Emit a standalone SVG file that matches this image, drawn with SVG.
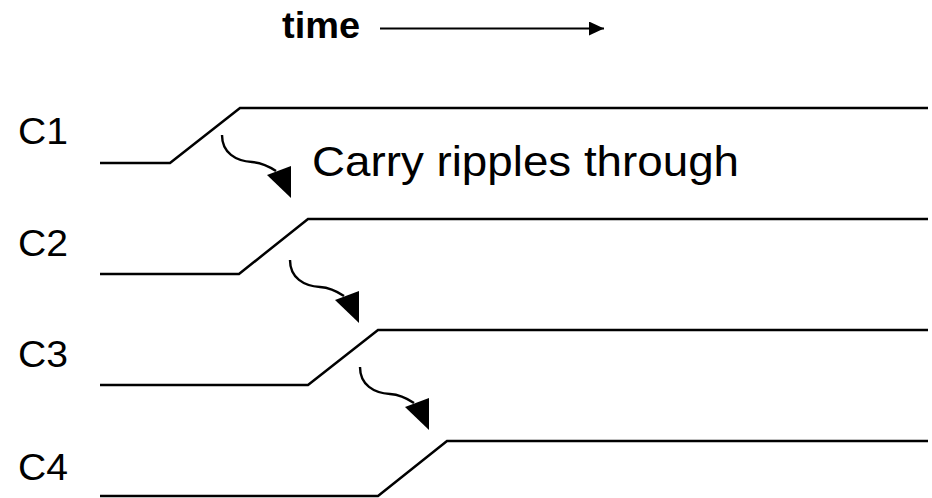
<svg xmlns="http://www.w3.org/2000/svg" width="932" height="498" viewBox="0 0 932 498">
  <style>
    .sig { fill: none; stroke: #000; stroke-width: 2.5; stroke-linejoin: miter; }
    .lbl { font-family: "Liberation Sans", Arial, sans-serif; font-size: 36px; fill: #000; }
    .note { font-family: "Liberation Sans", Arial, sans-serif; font-size: 43px; fill: #000; }
    .time { font-family: "Liberation Sans", Arial, sans-serif; font-size: 36px; font-weight: bold; fill: #000; }
    .curve { fill: none; stroke: #000; stroke-width: 2.4; }
    .head { fill: #000; stroke: none; }
  </style>
  <defs>
    <marker id="timeHead" markerWidth="15" markerHeight="14" refX="15" refY="7" orient="auto" markerUnits="userSpaceOnUse" viewBox="0 0 15 14">
      <path d="M0,0 L15,7 L0,14 z" fill="#000"/>
    </marker>
    <!-- curved ripple arrow, origin at the curve start -->
    <g id="ripple">
      <path class="curve" d="M0,0 C0,18 14,26 30,27 C38,27.5 45,30 54,36"/>
      <polygon class="head" points="45,40 69,31 69,63"/>
    </g>
  </defs>

  <!-- time axis -->
  <g id="time-axis">
    <text class="time" x="282" y="38" textLength="78" lengthAdjust="spacingAndGlyphs">time</text>
    <line x1="380" y1="28.5" x2="604" y2="28.5" stroke="#000" stroke-width="2.2" marker-end="url(#timeHead)"/>
  </g>

  <!-- carry signals -->
  <g id="C1">
    <text class="lbl" x="18" y="144" textLength="50" lengthAdjust="spacingAndGlyphs">C1</text>
    <polyline class="sig" points="100,163 170,163 240,108 928,108"/>
  </g>
  <g id="C2">
    <text class="lbl" x="18" y="256" textLength="50" lengthAdjust="spacingAndGlyphs">C2</text>
    <polyline class="sig" points="100,274 239,274 308,219 928,219"/>
  </g>
  <g id="C3">
    <text class="lbl" x="18" y="367" textLength="50" lengthAdjust="spacingAndGlyphs">C3</text>
    <polyline class="sig" points="100,385 308,385 378,330 928,330"/>
  </g>
  <g id="C4">
    <text class="lbl" x="18" y="480" textLength="50" lengthAdjust="spacingAndGlyphs">C4</text>
    <polyline class="sig" points="100,496 378,496 447,441 928,441"/>
  </g>

  <text id="note" class="note" x="312" y="176" textLength="427" lengthAdjust="spacingAndGlyphs">Carry ripples through</text>

  <!-- ripple connectors -->
  <g id="connectors">
    <use href="#ripple" x="222" y="135"/>
    <use href="#ripple" x="290" y="260"/>
    <use href="#ripple" x="360" y="367"/>
  </g>
</svg>
